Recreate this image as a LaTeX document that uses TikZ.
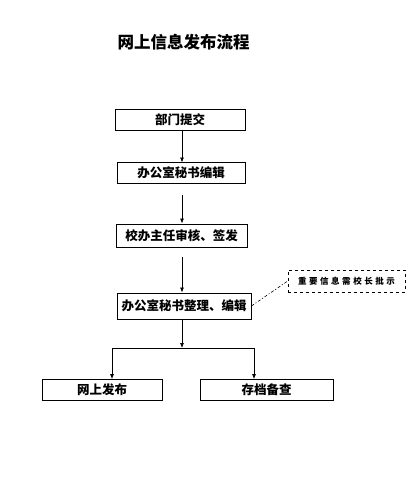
\documentclass[tikz,border=0pt]{standalone}
\usepackage{fontspec}
\newfontfamily\cjk{Noto Sans CJK SC}
\newfontfamily\cjkblack{Noto Sans CJK SC Black}
\newfontfamily\cjkspaced{Noto Sans CJK SC}[LetterSpace=30]
\usetikzlibrary{arrows.meta}
\begin{document}
\begin{tikzpicture}[x=1pt,y=-1pt,
  box/.style={draw,line width=0.8pt,minimum height=21pt,inner sep=0pt,font=\cjk\bfseries\fontsize{12.5}{14}\selectfont},
  note/.style={draw,dashed,line width=0.6pt,minimum height=22pt,inner sep=0pt,font=\cjkspaced\bfseries\fontsize{8.5}{10}\selectfont},
  arr/.style={line width=0.7pt,-{Latex[length=5pt,width=4pt]}}]
\useasboundingbox (0,0) rectangle (418,479);
\node[font=\cjkblack\fontsize{16.5}{19}\selectfont] (title) at (183.5,42) {网上信息发布流程};
\node[box,minimum width=130pt] (b1) at (180,120) {部门提交};
\node[box,minimum width=128pt] (b2) at (181,173) {办公室秘书编辑};
\node[box,minimum width=131pt,minimum height=23pt] (b3) at (181.5,235.5) {校办主任审核、签发};
\node[box,minimum width=134pt,minimum height=26pt] (b4) at (184,306) {办公室秘书整理、编辑};
\node[note,minimum width=117pt] (n) at (346.5,281) {重要信息需校长批示};
\node[box,minimum width=120pt] (b5) at (102,390) {网上发布};
\node[box,minimum width=133pt] (b6) at (266.5,390) {存档备查};
\coordinate (j) at (182,348);
\draw[arr] (182,130.5) -- (182,162.5);
\draw[arr] (182,195) -- (182,223.5);
\draw[arr] (182,257) -- (182,292.5);
\draw[line width=0.6pt,dash pattern=on 3pt off 2pt on 1pt off 2pt] (b4.east) -- (n.west);
\draw[arr] (b4.south -| j) -- (j);
\draw[arr] (j) -| (b5.north -| 112,0);
\draw[arr] (j) -| (b6.north -| 254,0);
\end{tikzpicture}
\end{document}
